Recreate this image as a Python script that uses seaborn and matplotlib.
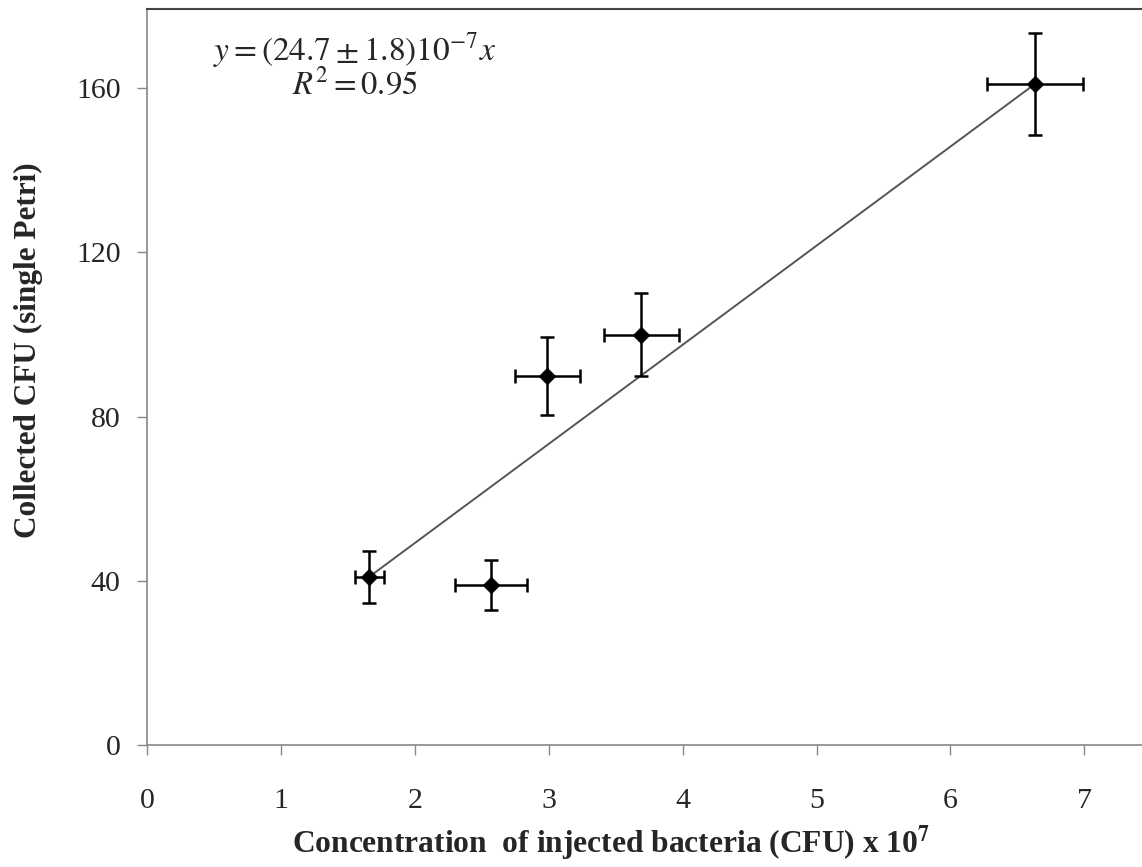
import numpy as np
import pandas as pd
import matplotlib
matplotlib.use('Agg')
import matplotlib.pyplot as plt
import seaborn as sns

# values (x in units of 10^7 CFU)
conc = [1.66, 2.57, 2.99, 3.69, 6.63]
conc_err = [0.11, 0.27, 0.24, 0.28, 0.36]
cfu = [41, 39, 90, 100, 161]
cfu_err = [6.3, 6.1, 9.5, 10.2, 12.4]

fit_slope = 24.15
fit_intercept = 0.9

x_ticks = [0, 1, 2, 3, 4, 5, 6, 7]
y_ticks = [0, 40, 80, 120, 160]

sns.set_style('ticks')
plt.rcParams['font.family'] = ['Liberation Serif', 'DejaVu Serif']
plt.rcParams['mathtext.fontset'] = 'stix'

df = pd.DataFrame({'conc': conc, 'cfu': cfu})
fit = pd.DataFrame({'conc': [min(conc), max(conc)]})
fit['cfu'] = fit_intercept + fit_slope * fit['conc']

fig = plt.figure(figsize=(11.42, 8.67), dpi=100)
ax = fig.add_axes([0.1287, 0.1407, 0.8713, 0.8489])

sns.lineplot(data=fit, x='conc', y='cfu', color='#555555', lw=1.4, ax=ax, zorder=2)
ax.errorbar(conc, cfu, xerr=conc_err, yerr=cfu_err, fmt='none', ecolor='black',
            elinewidth=1.8, capsize=5, capthick=1.8, zorder=3)
sns.scatterplot(data=df, x='conc', y='cfu', marker='D', s=70, color='black',
                edgecolor='black', ax=ax, zorder=4)

ax.set_xlim(0, 7.43)
ax.set_ylim(0, 179.3)
ax.set_xticks(x_ticks)
ax.set_yticks(y_ticks)
ax.tick_params(axis='both', labelsize=21.5, direction='out', length=7, width=1,
               color='#888888', pad=12)
ax.tick_params(axis='x', pad=24)

ax.set_xlabel(r'Concentration  of injected bacteria (CFU) x 10$^{\mathbf{7}}$',
              fontsize=22.7, fontweight='bold')
ax.set_ylabel('Collected CFU (single Petri)', fontsize=22.5, fontweight='bold')
ax.xaxis.set_label_coords(0.467, -0.134)
ax.yaxis.set_label_coords(-0.1196, 0.537)
ax.xaxis.label.set_va('center')
ax.yaxis.label.set_va('center')

for side in ['left', 'bottom']:
    ax.spines[side].set_color('#888888')
    ax.spines[side].set_linewidth(1.2)
ax.spines['top'].set_color('#444444')
ax.spines['top'].set_linewidth(1.5)
ax.spines['right'].set_visible(False)

ax.text(0.209, 0.944, r'$y = (24.7 \pm 1.8)10^{-7}x$', transform=ax.transAxes,
        ha='center', va='center', fontsize=24)
ax.text(0.209, 0.897, r'$R^2 = 0.95$', transform=ax.transAxes,
        ha='center', va='center', fontsize=23.5)

fig.savefig('out.png', dpi=100)
